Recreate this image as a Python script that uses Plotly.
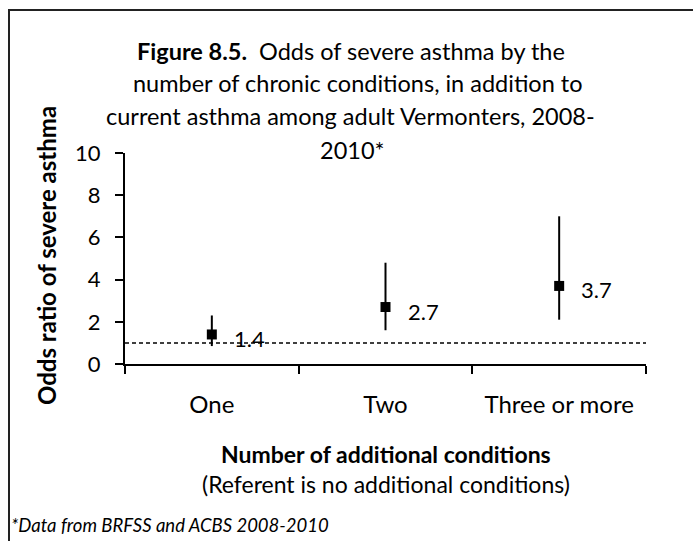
import plotly.graph_objects as go

# Odds ratios of severe asthma by number of additional chronic conditions
categories = ["One", "Two", "Three or more"]
odds_ratio = [1.4, 2.7, 3.7]
ci_lower = [0.85, 1.6, 2.1]
ci_upper = [2.3, 4.8, 7.0]
referent = 1.0
y_ticks = [0, 2, 4, 6, 8, 10]

W, H = 693, 541
L, R, T, B = 125, 47, 153, 177
PW, PH = W - L - R, H - T - B


def px(x):
    return (x - L) / PW


def py(y):
    return (H - B - y) / PH


FONT = "Lato, 'Open Sans', sans-serif"
xs = list(range(len(categories)))

fig = go.Figure()

# referent line (OR = 1)
fig.add_trace(go.Scatter(
    x=[-0.5, len(categories) - 0.5], y=[referent, referent],
    mode="lines", line=dict(color="black", width=1.5, dash="4px,3px"),
    hoverinfo="skip", showlegend=False,
))

# point estimates with 95% confidence intervals
fig.add_trace(go.Scatter(
    x=xs, y=odds_ratio, mode="markers",
    marker=dict(symbol="square", size=10, color="black"),
    error_y=dict(
        type="data", symmetric=False,
        array=[u - v for u, v in zip(ci_upper, odds_ratio)],
        arrayminus=[v - l for v, l in zip(odds_ratio, ci_lower)],
        color="black", thickness=2, width=0,
    ),
    showlegend=False,
))

annotations = []
for x, v in zip(xs, odds_ratio):
    annotations.append(dict(
        x=x, y=v, xref="x", yref="y", text=f"{v:.1f}", showarrow=False,
        xanchor="left", xshift=20, yshift=-4,
        font=dict(family=FONT, size=22, color="black"),
    ))

title_lines = [
    ("<b>Figure 8.5.</b>  Odds of severe asthma by the", 351, 51),
    ("number of chronic conditions, in addition to", 358, 83),
    ("current asthma among adult Vermonters, 2008-", 350, 116),
    ("2010*", 352, 150),
]
for text, cx, cy in title_lines:
    annotations.append(dict(
        x=px(cx), y=py(cy), xref="paper", yref="paper", text=text,
        showarrow=False, xanchor="center", yanchor="middle",
        font=dict(family=FONT, size=23.5, color="black"),
    ))

annotations += [
    dict(x=px(46), y=py(256), xref="paper", yref="paper",
         text="<b>Odds ratio of severe asthma</b>", textangle=-90,
         showarrow=False, xanchor="center", yanchor="middle",
         font=dict(family=FONT, size=24, color="black")),
    dict(x=0.5, y=py(454), xref="paper", yref="paper",
         text="<b>Number of additional conditions</b>",
         showarrow=False, xanchor="center", yanchor="middle",
         font=dict(family=FONT, size=23, color="black")),
    dict(x=0.5, y=py(484), xref="paper", yref="paper",
         text="(Referent is no additional conditions)",
         showarrow=False, xanchor="center", yanchor="middle",
         font=dict(family=FONT, size=23, color="black")),
    dict(x=px(9), y=py(525), xref="paper", yref="paper",
         text="<i>*Data from BRFSS and ACBS 2008-2010</i>",
         showarrow=False, xanchor="left", yanchor="middle",
         font=dict(family=FONT, size=18.5, color="black")),
]

# chart frame
shapes = [dict(
    type="rect", xref="paper", yref="paper",
    x0=px(9), y0=py(H + 20), x1=px(W + 20), y1=py(10),
    line=dict(color="#222222", width=2), layer="below",
)]

fig.update_layout(
    width=W, height=H,
    margin=dict(l=L, r=R, t=T, b=B, pad=0),
    paper_bgcolor="white", plot_bgcolor="white",
    font=dict(family=FONT, color="black"),
    annotations=annotations, shapes=shapes,
    xaxis=dict(
        range=[-0.5, len(categories) - 0.5],
        tickvals=xs, ticktext=categories,
        ticks="outside", ticklen=18, tickcolor="rgba(0,0,0,0)",
        tickfont=dict(family=FONT, size=24, color="black"),
        showline=True, linecolor="black", linewidth=2,
        showgrid=False, zeroline=False, fixedrange=True,
        minor=dict(tickvals=[i - 0.5 for i in range(len(categories) + 1)],
                   ticks="outside", ticklen=8, tickwidth=1.5,
                   tickcolor="black", showgrid=False),
    ),
    yaxis=dict(
        range=[0, 10], tickvals=y_ticks,
        ticks="outside", ticklen=8, tickwidth=1.5, tickcolor="black",
        ticklabelstandoff=10,
        tickfont=dict(family=FONT, size=22, color="black"),
        showline=True, linecolor="black", linewidth=2,
        showgrid=False, zeroline=False, fixedrange=True,
    ),
)

fig.write_html("out.html")
